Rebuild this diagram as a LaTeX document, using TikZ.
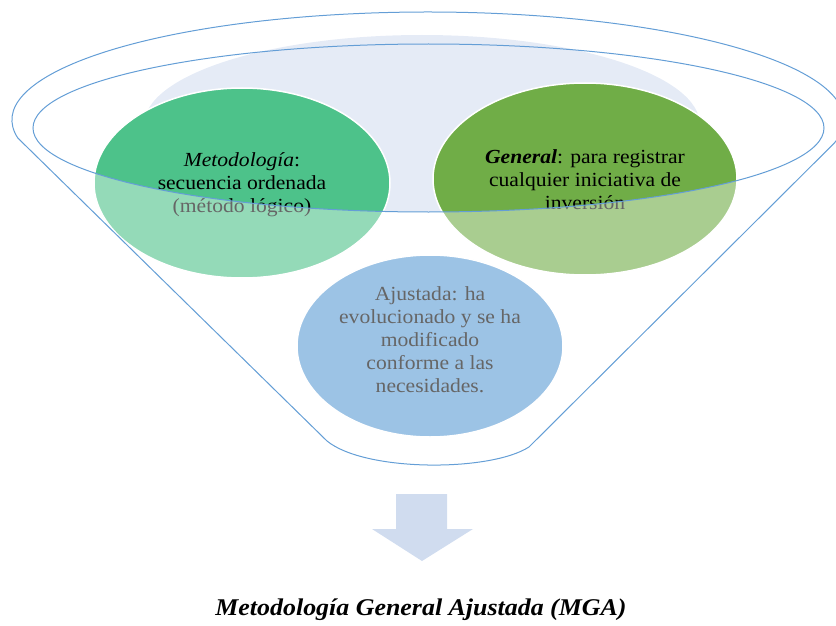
\documentclass[tikz,border=0pt]{standalone}
\usepackage{fontspec}
\setmainfont{Liberation Serif}[FakeStretch=1.08]
\usetikzlibrary{shapes.geometric}
\definecolor{rim}{RGB}{100,158,214}
\definecolor{topfill}{RGB}{229,235,246}
\definecolor{gA}{RGB}{77,194,138}
\definecolor{gB}{RGB}{112,173,71}
\definecolor{bC}{RGB}{91,155,213}
\definecolor{arrowc}{RGB}{208,220,239}
\begin{document}
\begin{tikzpicture}[x=1pt,y=-1pt,
  bubble/.style={ellipse, draw=white, line width=1.5pt, inner sep=0pt},
  btext/.style={align=center, font=\fontsize{20}{23}\selectfont, inner sep=0pt},
  rimline/.style={draw=rim, line width=1pt}]
\useasboundingbox (0,0) rectangle (836,626);
% light top fill, clipped above the rim's lower edge
\begin{scope}
\clip (-20,-20) -- (860,-20) -- (860,128) -- (824,128)
  arc[start angle=0,end angle=180,x radius=395.5,y radius=84] -- (-20,128) -- cycle;
\fill[topfill] (422,125) ellipse [x radius=278, y radius=90];
\end{scope}
% bubbles
\node[bubble, fill=gA, minimum width=296pt, minimum height=190pt] (met) at (242,183) {};
\node[bubble, fill=gB, minimum width=304pt, minimum height=192pt] (gen) at (585,179) {};
\node[bubble, fill=bC, minimum width=266pt, minimum height=182pt] (aju) at (430,346) {};
% texts
\node[btext] (metT) at (242,185) {\textit{Metodología}:\\secuencia ordenada\\(método lógico)};
\node[btext] (genT) at (585,180) {\textbf{\textit{General}}: para registrar\\cualquier iniciativa de\\inversión};
\node[btext] (ajuT) at (430,340) {Ajustada: ha\\evolucionado y se ha\\modificado\\conforme a las\\necesidades.};
% funnel body veil
\fill[white, opacity=0.4] (-20,128) -- (33,128)
  arc[start angle=180, end angle=0, x radius=395.5, y radius=84]
  -- (860,128) -- (860,480) -- (-20,480) -- cycle;
% funnel outlines
\coordinate (innerC) at (428.5,128);
\draw[rimline] (innerC) ellipse [x radius=395.5, y radius=84];
\coordinate (topL) at (17.8,138);
\coordinate (botR) at (529,447);
\coordinate (botL) at (327,441);
\draw[rimline] (topL) arc[start angle=170.4, end angle=372.3, x radius=416, y radius=108]
  -- (botR) .. controls (490,472) and (365,472) .. (botL) -- cycle;
% arrow
\fill[arrowc] (396,494) -- (447,494) -- (447,529) -- (473,529) -- (422,561) -- (372,529) -- (396,529) -- cycle;
% title
\node[font=\fontsize{24}{28}\selectfont\bfseries\itshape] (title) at (421,610) {Metodología General Ajustada (MGA)};
\end{tikzpicture}
\end{document}
